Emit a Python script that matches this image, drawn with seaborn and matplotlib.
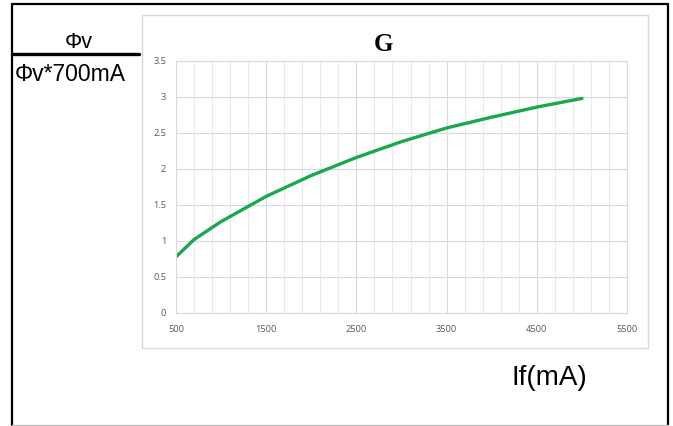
import numpy as np
import pandas as pd
import matplotlib
matplotlib.use("Agg")
import matplotlib.pyplot as plt
from matplotlib.lines import Line2D
from matplotlib.patches import Rectangle
from matplotlib.ticker import MultipleLocator
import seaborn as sns

# values
current_ma = [500, 700, 1000, 1500, 2000, 2500, 3000, 3500, 4000, 4500, 5000]
rel_flux = [0.78, 1.02, 1.27, 1.62, 1.91, 2.16, 2.38, 2.57, 2.72, 2.86, 2.98]
x_ticks = [500, 1500, 2500, 3500, 4500, 5500]
y_ticks = [0, 0.5, 1, 1.5, 2, 2.5, 3, 3.5]

W, H = 673, 426


def fx(px):
    return px / W


def fy(py):
    return 1 - py / H


def main() -> None:
    sns.set_style("white")
    plt.rcParams["font.family"] = ["Liberation Sans", "DejaVu Sans"]
    plt.rcParams["text.color"] = "black"

    df = pd.DataFrame({"If": current_ma, "flux": rel_flux})

    fig = plt.figure(figsize=(W / 100, H / 100), dpi=100)
    fig.patch.set_facecolor("white")

    # outer black frame and light chart frame
    for (x0, y0, x1, y1, c, lw) in [
        (12, 4, 668, 4, "black", 1.6),
        (12, 4, 12, 425, "black", 1.6),
        (668, 4, 668, 425, "black", 1.6),
        (12, 425, 668, 425, "#bfbfbf", 1.0),
    ]:
        fig.add_artist(Line2D([fx(x0), fx(x1)], [fy(y0), fy(y1)], color=c, lw=lw,
                              transform=fig.transFigure))
    fig.add_artist(Rectangle((fx(142), fy(348)), fx(648) - fx(142), fy(15) - fy(348),
                             transform=fig.transFigure, fill=False,
                             edgecolor="#d9d9d9", lw=1.0))

    ax = fig.add_axes([fx(176), fy(313), fx(627) - fx(176), fy(61) - fy(313)])
    sns.lineplot(data=df, x="If", y="flux", ax=ax, color="#1aa84f", linewidth=2.4)

    ax.set_xlim(500, 5500)
    ax.set_ylim(0, 3.5)
    ax.set_xticks(x_ticks)
    ax.set_yticks(y_ticks)
    ax.set_yticklabels([f"{v:g}" for v in y_ticks])
    ax.xaxis.set_minor_locator(MultipleLocator(200, offset=100))
    ax.grid(True, which="major", color="#d9d9d9", lw=0.8)
    ax.grid(True, which="minor", axis="x", color="#ebebeb", lw=0.8)
    ax.set_axisbelow(True)
    for s in ax.spines.values():
        s.set_color("#d9d9d9")
        s.set_linewidth(0.8)
    ax.tick_params(axis="both", which="both", length=0, labelsize=6.7,
                   labelcolor="#595959")
    ax.tick_params(axis="x", pad=9)
    ax.tick_params(axis="y", pad=7)
    for lab in ax.get_xticklabels() + ax.get_yticklabels():
        lab.set_family(["Open Sans", "DejaVu Sans"])
    ax.set_xlabel("")
    ax.set_ylabel("")

    # chart title
    fig.text(fx(383), fy(51), "G", ha="center", va="baseline",
             fontfamily="Liberation Serif", fontweight="bold", fontsize=18)

    # fraction label on the left
    fig.text(fx(79), fy(48), "Φv", ha="center", va="baseline", fontsize=15.5)
    fig.add_artist(Line2D([fx(12), fx(139)], [fy(54), fy(54)], color="black", lw=2.4,
                          transform=fig.transFigure))
    fig.text(fx(15), fy(81), "Φv*700mA", ha="left", va="baseline", fontsize=16.5)

    fig.text(fx(512), fy(385), "If(mA)", ha="left", va="baseline", fontsize=20)

    fig.savefig("out.png", dpi=100, facecolor="white")
    plt.close(fig)


if __name__ == "__main__":
    main()
